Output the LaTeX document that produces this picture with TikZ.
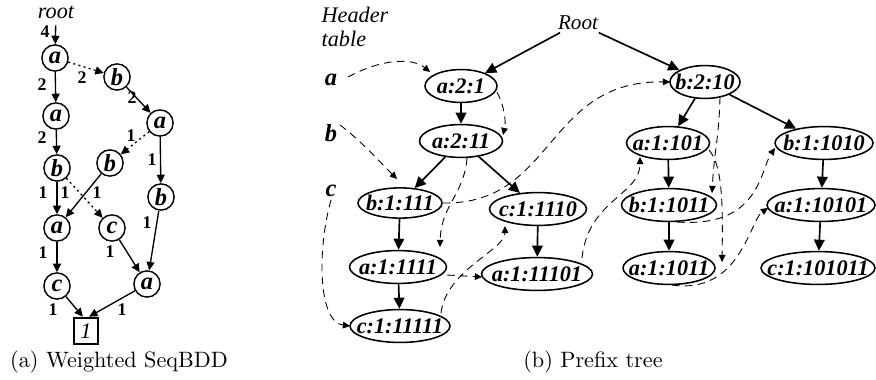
\documentclass[tikz,border=0pt]{standalone}
\usepackage{fontspec}
\newfontfamily\tms{Liberation Serif}
\usetikzlibrary{arrows.meta,shapes.geometric,calc}
\tikzset{
  cnode/.style={circle,draw,line width=0.65pt,minimum size=11.8pt,inner sep=0pt,
    font=\tms\bfseries\itshape\fontsize{11}{12}\selectfont},
  sedge/.style={line width=0.6pt,-{Triangle[length=3.8pt,width=3.6pt]}},
  dedge/.style={sedge,dash pattern=on 0.9pt off 1.5pt},
  wlab/.style={font=\tms\bfseries\fontsize{8}{9}\selectfont,inner sep=0pt},
  enode/.style={ellipse,draw,line width=0.7pt,minimum height=14.8pt,inner sep=0pt,
    font=\tms\bfseries\itshape\fontsize{10}{12}\selectfont},
  ew/.style={minimum width={#1*0.45pt}},
  tedge/.style={line width=0.75pt,-{Triangle[length=5pt,width=4.8pt]}},
  hedge/.style={line width=0.4pt,dash pattern=on 3.4pt off 2.4pt,-{Triangle[length=3.2pt,width=3pt]}},
  itx/.style={font=\tms\itshape\fontsize{10}{11}\selectfont,inner sep=1pt},
  hlab/.style={font=\tms\bfseries\itshape\fontsize{11}{12}\selectfont,inner sep=1pt},
}
\newcommand\et[1]{\makebox[0pt]{#1}}
\begin{document}
\begin{tikzpicture}[x=0.45pt,y=-0.45pt]
\useasboundingbox (0,0) rectangle (876,379);
% ---------- (a) weighted SeqBDD ----------
\node[itx] (root) at (56,12) {root};
\node[cnode] (a1) at (55,58) {a};
\node[cnode] (b1) at (117,77) {b};
\node[cnode] (a2) at (56,116) {a};
\node[cnode] (a3) at (160,123) {a};
\node[cnode] (b2) at (57,168) {b};
\node[cnode] (b3) at (110,163) {b};
\node[cnode] (b4) at (161,197) {b};
\node[cnode] (a4) at (57,228) {a};
\node[cnode] (c1) at (112,228) {c};
\node[cnode] (c2) at (57,286) {c};
\node[cnode] (a5) at (147,284) {a};
\node[draw,line width=0.9pt,minimum width=11.2pt,minimum height=12pt,inner sep=0pt,
  font=\tms\itshape\fontsize{10}{12}\selectfont] (one) at (86,331) {1};

\draw[sedge,shorten <=2pt] (root) -- (a1);
\draw[sedge] (a1) -- (a2);
\draw[dedge] (a1) -- (b1);
\draw[sedge] (b1) -- (a3);
\draw[sedge] (a2) -- (b2);
\draw[dedge] (a3) -- (b3);
\draw[sedge] (a3) -- (b4);
\draw[sedge] (b2) -- (a4);
\draw[sedge] (b3) -- (a4);
\draw[dedge] (b2) -- (c1);
\draw[sedge] (b4) -- (a5);
\draw[sedge] (a4) -- (c2);
\draw[sedge] (c1) -- (a5);
\draw[sedge] (c2) -- ([xshift=-1.4pt]one.north);
\draw[sedge] (a5) -- ([xshift=1.4pt]one.north);

\node[wlab] (w0) at (45,32) {4};
\node[wlab] (w1) at (42,85) {2};
\node[wlab] (w2) at (82,78) {2};
\node[wlab] (w3) at (132,98) {2};
\node[wlab] (w4) at (42,138) {2};
\node[wlab] (w5) at (131,136) {1};
\node[wlab] (w6) at (152,160) {1};
\node[wlab] (w7) at (43,193) {1};
\node[wlab] (w8) at (65,193) {1};
\node[wlab] (w9) at (97,193) {1};
\node[wlab] (w10) at (147,223) {1};
\node[wlab] (w11) at (43,253) {1};
\node[wlab] (w12) at (110,252) {1};
\node[wlab] (w13) at (53,310) {1};
\node[wlab] (w14) at (122,310) {1};

\node[font=\fontsize{10}{12}\selectfont,inner sep=0pt] (capa) at (119,362) {(a) Weighted SeqBDD};

% ---------- (b) prefix tree ----------
\node[itx,align=left,anchor=west] (ht) at (319,27) {Header\\table};
\node[itx,font=\tms\itshape\fontsize{9.5}{11}\selectfont] (R) at (578,23) {Root};
\node[hlab] (ha) at (331,80) {a};
\node[hlab] (hb) at (331,133) {b};
\node[hlab] (hc) at (331,191) {c};

\node[enode,ew=72] (a21) at (461,86) {\et{a:2:1}};
\node[enode,ew=83] (a211) at (461,141) {\et{a:2:11}};
\node[enode,ew=84,minimum height=13.6pt] (b111) at (400,203) {\et{b:1:111}};
\node[enode,ew=97] (c1110) at (538,209) {\et{c:1:1110}};
\node[enode,ew=97] (a1111) at (398,267) {\et{a:1:1111}};
\node[enode,ew=111] (a11101) at (537,274) {\et{a:1:11101}};
\node[enode,ew=100] (c11111) at (400,326) {\et{c:1:11111}};
\node[enode,ew=70] (b210) at (705,82) {\et{b:2:10}};
\node[enode,ew=83] (a101) at (668,143) {\et{a:1:101}};
\node[enode,ew=95] (b1011) at (669,205) {\et{b:1:1011}};
\node[enode,ew=92] (a1011) at (669,268) {\et{a:1:1011}};
\node[enode,ew=98] (b1010) at (824,143) {\et{b:1:1010}};
\node[enode,ew=108] (a10101) at (821,205) {\et{a:1:10101}};
\node[enode,ew=114] (c101011) at (818,268) {\et{c:1:101011}};

\draw[tedge] (R) -- (a21);
\draw[tedge] (R) -- (b210);
\draw[tedge] (a21) -- (a211);
\draw[tedge] (a211) -- (b111);
\draw[tedge] (a211) -- (c1110);
\draw[tedge] (b111) -- (a1111);
\draw[tedge] (a1111) -- (c11111);
\draw[tedge] (c1110) -- (a11101);
\draw[tedge] (b210) -- (a101);
\draw[tedge] (b210) -- (b1010);
\draw[tedge] (a101) -- (b1011);
\draw[tedge] (b1011) -- (a1011);
\draw[tedge] (b1010) -- (a10101);
\draw[tedge] (a10101) -- (c101011);

% header-table node links
\draw[hedge] ([shift={(17,-3)}]ha.center) .. controls +(35,-19) and +(-17,-14) .. ([shift={(-31,-14)}]a21.center);
\draw[hedge] ([shift={(36,6)}]a21.center) .. controls +(8,16) and +(3,-13) .. ([shift={(42,-6)}]a211.center);
\draw[hedge] ([shift={(6,17)}]a211.center) .. controls +(-3,37) and +(1,-42) .. ([shift={(42,-20)}]a1111.center);
\draw[hedge] ([shift={(49,8)}]a1111.center) -- ([shift={(-55,3)}]a11101.center);
\draw[hedge] ([shift={(45,-16)}]a11101.center) .. controls +(6,-58) and +(0,38) .. ([shift={(-28,14)}]a101.center);
\draw[hedge] ([shift={(41,7)}]a101.center) .. controls +(13,15) and +(1,-62) .. ([shift={(53,-6)}]a1011.center);
\draw[hedge] ([shift={(3,17)}]a1011.center) .. controls +(68,10) and +(-18,12) .. ([shift={(-53,3)}]a10101.center);
\draw[hedge] ([shift={(9,-8)}]hb.center) .. controls +(20,15) and +(-20,-20) .. ([shift={(-3,-24)}]b111.center);
\draw[hedge] ([shift={(43,0)}]b111.center) .. controls +(112,2) and +(-125,-2) .. ([shift={(-35,0)}]b210.center);
\draw[hedge] ([shift={(15,15)}]b210.center) .. controls +(-1,40) and +(2,-40) .. ([shift={(43,-12)}]b1011.center);
\draw[hedge] ([shift={(8,17)}]b1011.center) .. controls +(83,6) and +(-15,22) .. ([shift={(-49,5)}]b1010.center);
\draw[hedge] ([shift={(0,9)}]hc.center) .. controls +(-14,50) and +(-32,-4) .. ([shift={(-50,0)}]c11111.center);
\draw[hedge] ([shift={(41,-13)}]c11111.center) .. controls +(5,-43) and +(0,24) .. ([shift={(-33,17)}]c1110.center);

\node[font=\fontsize{10}{12}\selectfont,inner sep=0pt] (capb) at (593,362) {(b) Prefix tree};
\end{tikzpicture}
\end{document}
